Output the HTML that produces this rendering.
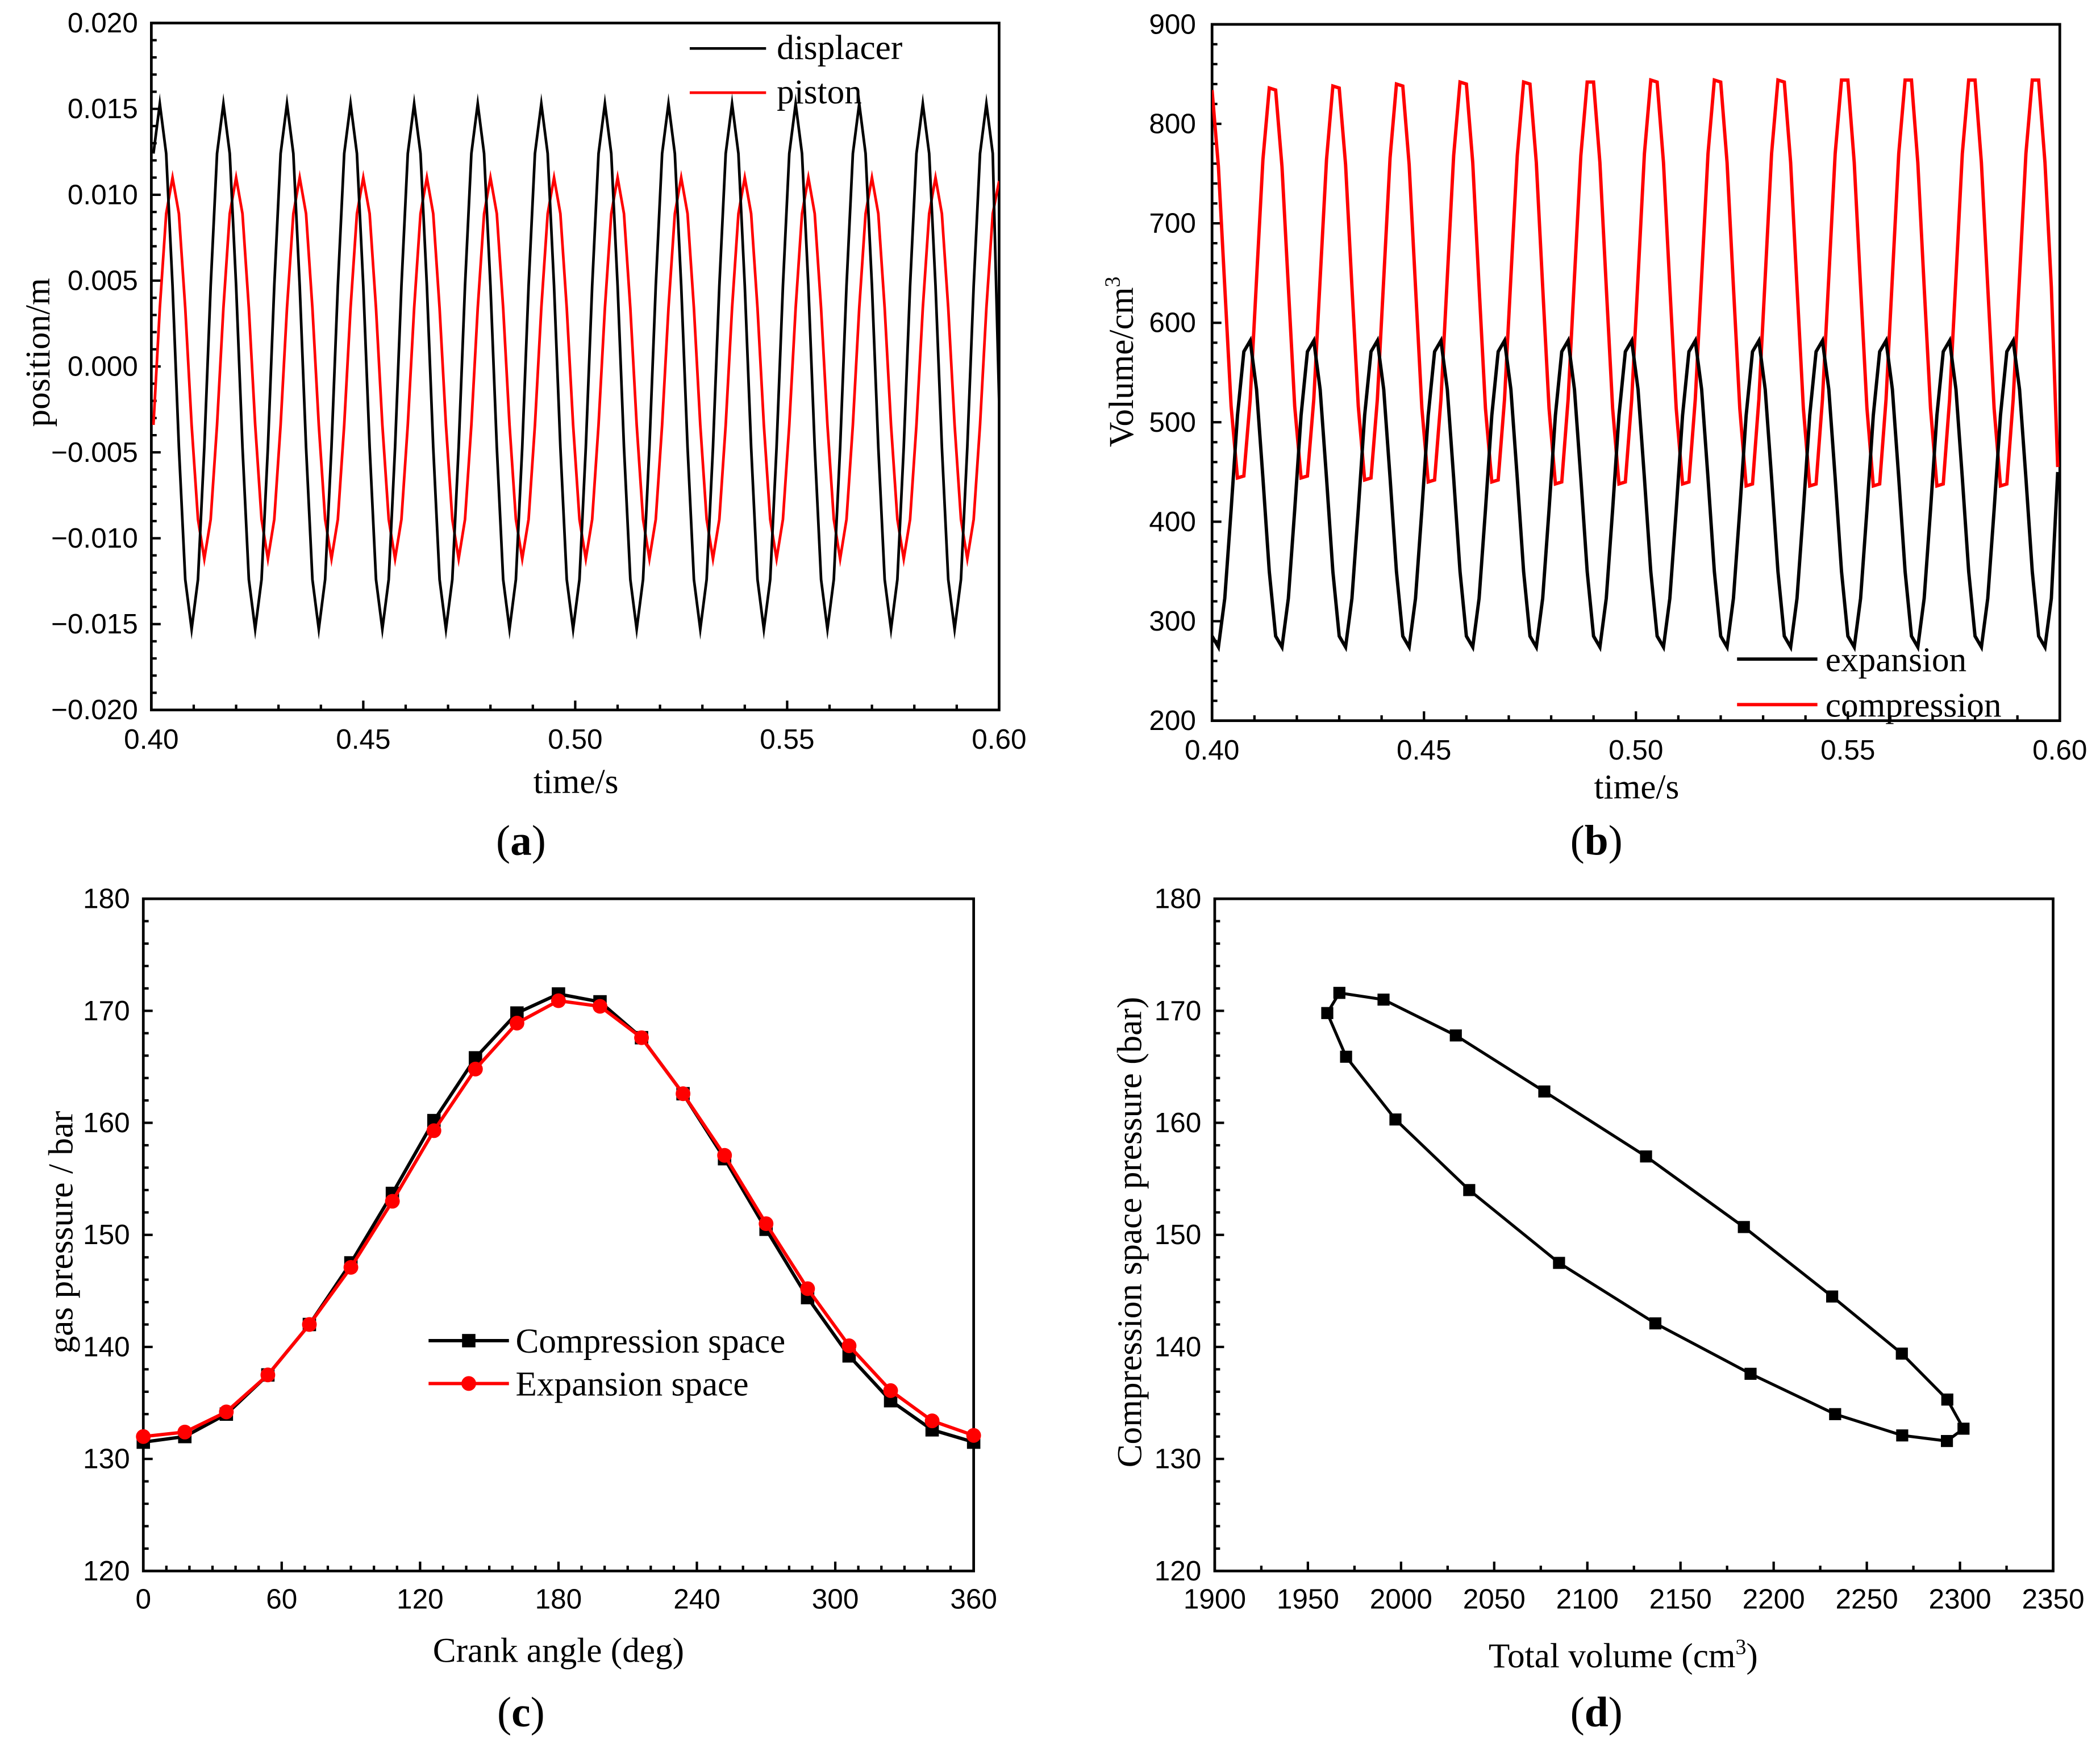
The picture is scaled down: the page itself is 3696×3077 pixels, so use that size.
<!DOCTYPE html>
<html><head><meta charset="utf-8"><style>
html,body{margin:0;padding:0;background:#fff;}
svg{display:block;}
.tick{font-family:"Liberation Sans",Arial,sans-serif;font-size:21px;fill:#000;}
.ttl{font-family:"Liberation Serif","Times New Roman",serif;font-size:26px;fill:#000;}
.pl{font-family:"Liberation Serif","Times New Roman",serif;font-size:32px;fill:#000;}
</style></head><body>
<svg id="fig" xmlns="http://www.w3.org/2000/svg" width="3696" height="3077" viewBox="0 0 1568 1305">
<rect x="0" y="0" width="1568" height="1305" fill="#fff"/>
</svg>
<script>
// ---------- Panel (a) data ----------
const aTimeStart = 0.4005;
const aTimeStep = 0.0015;
const aDisplacer = [
0.0124,0.0153,0.0124,0.0047,-0.0047,-0.0124,-0.0153,-0.0124,-0.0047,0.0047,
0.0124,0.0153,0.0124,0.0047,-0.0047,-0.0124,-0.0153,-0.0124,-0.0047,0.0047,
0.0124,0.0153,0.0124,0.0047,-0.0047,-0.0124,-0.0153,-0.0124,-0.0047,0.0047,
0.0124,0.0153,0.0124,0.0047,-0.0047,-0.0124,-0.0153,-0.0124,-0.0047,0.0047,
0.0124,0.0153,0.0124,0.0047,-0.0047,-0.0124,-0.0153,-0.0124,-0.0047,0.0047,
0.0124,0.0153,0.0124,0.0047,-0.0047,-0.0124,-0.0153,-0.0124,-0.0047,0.0047,
0.0124,0.0153,0.0124,0.0047,-0.0047,-0.0124,-0.0153,-0.0124,-0.0047,0.0047,
0.0124,0.0153,0.0124,0.0047,-0.0047,-0.0124,-0.0153,-0.0124,-0.0047,0.0047,
0.0124,0.0153,0.0124,0.0047,-0.0047,-0.0124,-0.0153,-0.0124,-0.0047,0.0047,
0.0124,0.0153,0.0124,0.0047,-0.0047,-0.0124,-0.0153,-0.0124,-0.0047,0.0047,
0.0124,0.0153,0.0124,0.0047,-0.0047,-0.0124,-0.0153,-0.0124,-0.0047,0.0047,
0.0124,0.0153,0.0124,0.0047,-0.0047,-0.0124,-0.0153,-0.0124,-0.0047,0.0047,
0.0124,0.0153,0.0124,0.0047,-0.0047,-0.0124,-0.0153,-0.0124,-0.0047,0.0047,
0.0124,0.0153,0.0124,-0.0020];
const aPiston = [
-0.0034,0.0034,0.0089,0.0110,0.0089,0.0034,-0.0034,-0.0089,-0.0112,-0.0089,
-0.0034,0.0034,0.0089,0.0110,0.0089,0.0034,-0.0034,-0.0089,-0.0112,-0.0089,
-0.0034,0.0034,0.0089,0.0110,0.0089,0.0034,-0.0034,-0.0089,-0.0112,-0.0089,
-0.0034,0.0034,0.0089,0.0110,0.0089,0.0034,-0.0034,-0.0089,-0.0112,-0.0089,
-0.0034,0.0034,0.0089,0.0110,0.0089,0.0034,-0.0034,-0.0089,-0.0112,-0.0089,
-0.0034,0.0034,0.0089,0.0110,0.0089,0.0034,-0.0034,-0.0089,-0.0112,-0.0089,
-0.0034,0.0034,0.0089,0.0110,0.0089,0.0034,-0.0034,-0.0089,-0.0112,-0.0089,
-0.0034,0.0034,0.0089,0.0110,0.0089,0.0034,-0.0034,-0.0089,-0.0112,-0.0089,
-0.0034,0.0034,0.0089,0.0110,0.0089,0.0034,-0.0034,-0.0089,-0.0112,-0.0089,
-0.0034,0.0034,0.0089,0.0110,0.0089,0.0034,-0.0034,-0.0089,-0.0112,-0.0089,
-0.0034,0.0034,0.0089,0.0110,0.0089,0.0034,-0.0034,-0.0089,-0.0112,-0.0089,
-0.0034,0.0034,0.0089,0.0110,0.0089,0.0034,-0.0034,-0.0089,-0.0112,-0.0089,
-0.0034,0.0034,0.0089,0.0110,0.0089,0.0034,-0.0034,-0.0089,-0.0112,-0.0089,
-0.0034,0.0034,0.0089,0.0108];
const aXTicks = ["0.40","0.45","0.50","0.55","0.60"];
const aYTicks = ["0.020","0.015","0.010","0.005","0.000","−0.005","−0.010","−0.015","−0.020"];

// ---------- Panel (b) data ----------
const bTimeStart = 0.4;
const bTimeStep = 0.0015;
const bExpansion = [
285,274,323,412,507,571,582,533,444,350,
285,274,323,412,507,571,582,533,444,350,
285,274,323,412,507,571,582,533,444,350,
285,274,323,412,507,571,582,533,444,350,
285,274,323,412,507,571,582,533,444,350,
285,274,323,412,507,571,582,533,444,350,
285,274,323,412,507,571,582,533,444,350,
285,274,323,412,507,571,582,533,444,350,
285,274,323,412,507,571,582,533,444,350,
285,274,323,412,507,571,582,533,444,350,
285,274,323,412,507,571,582,533,444,350,
285,274,323,412,507,571,582,533,444,350,
285,274,323,412,507,571,582,533,444,350,
285,274,323,450];
const bCompression = [
834,757,636,516,444,446,523,644,764,836,
834,757,636,516,444,446,523,644,764,838,
836,759,636,516,442,444,523,644,766,840,
838,759,636,514,440,442,523,646,768,842,
840,761,636,514,440,442,523,646,768,842,
840,761,636,514,438,440,523,646,768,842,
842,761,636,514,438,440,523,646,770,844,
842,761,636,514,438,440,523,646,770,844,
842,761,636,514,436,438,523,646,770,844,
842,761,636,514,436,438,523,646,770,844,
844,761,636,514,436,438,523,646,770,844,
844,761,636,514,436,438,523,646,770,844,
844,761,636,514,436,438,523,646,770,844,
844,761,636,455];
const bXTicks = ["0.40","0.45","0.50","0.55","0.60"];
const bYTicks = ["900","800","700","600","500","400","300","200"];

// ---------- Panel (c) data ----------
const cAngles = [0,18,36,54,72,90,108,126,144,162,180,198,216,234,252,270,288,306,324,342,360];
const cCompression = [131.5,132,134,137.5,142,147.5,153.7,160.2,165.8,169.8,171.5,170.8,167.6,162.6,156.8,150.5,144.4,139.2,135.2,132.6,131.5];
const cExpansion = [132,132.4,134.2,137.5,142,147.1,153,159.3,164.8,168.9,170.9,170.4,167.6,162.6,157.1,151,145.2,140.1,136.1,133.4,132.1];
const cXTicks = ["0","60","120","180","240","300","360"];
const cYTicks = ["180","170","160","150","140","130","120"];

// ---------- Panel (d) data ----------
const dVolume = [2293,2269,2233,2187.6,2136.5,2084.8,2036.6,1997,1970.5,1960.4,1966.9,1990.6,2029.4,2076.9,2131.5,2184,2231.4,2268.8,2293.2,2301.9];
const dPressure = [131.6,132.1,134,137.6,142.1,147.5,154,160.3,165.9,169.8,171.6,171,167.8,162.8,157,150.7,144.5,139.4,135.3,132.7];
const dXTicks = ["1900","1950","2000","2050","2100","2150","2200","2250","2300","2350"];
const dYTicks = ["180","170","160","150","140","130","120"];

const NS = "http://www.w3.org/2000/svg";
const svg = document.getElementById('fig');
function mk(tag, attrs, parent){
  const e = document.createElementNS(NS, tag);
  for (const k in attrs) e.setAttribute(k, attrs[k]);
  (parent||svg).appendChild(e);
  return e;
}
function lin(d0,d1,p0,p1){ return v => p0 + (v-d0)/(d1-d0)*(p1-p0); }

function frame(g, L, T, R, B, xMin, xMax, xMajor, xMinorN, yMin, yMax, yMajor, yMinorN, xLabels, yLabels, xLabY, yLabX){
  const sx = lin(xMin,xMax,L,R), sy = lin(yMin,yMax,B,T);
  const f = mk('rect',{x:L,y:T,width:R-L,height:B-T,fill:'none',stroke:'#000','stroke-width':2},g);
  
  
  let d='';
  const nx = Math.round((xMax-xMin)/xMajor);
  for(let i=0;i<=nx;i++){
    const xv = xMin+i*xMajor, x = sx(xv);
    d += `M${x},${B}v-7`;
    if(i<nx) for(let j=1;j<=xMinorN;j++){ const xm = sx(xv + j*xMajor/(xMinorN+1)); d+=`M${xm},${B}v-4`; }
    const t = mk('text',{x:x,y:xLabY,'text-anchor':'middle',class:'tick'},g);
    t.textContent = xLabels[i];
    
    
  }
  const ny = Math.round((yMax-yMin)/yMajor);
  for(let i=0;i<=ny;i++){
    const yv = yMax-i*yMajor, y = sy(yv);
    d += `M${L},${y}h7`;
    if(i<ny) for(let j=1;j<=yMinorN;j++){ const ym = sy(yv - j*yMajor/(yMinorN+1)); d+=`M${L},${ym}h4`; }
    const t = mk('text',{x:yLabX,y:y+7,'text-anchor':'end',class:'tick'},g);
    t.textContent = yLabels[i];
    
    
  }
  const tk = mk('path',{d:d,stroke:'#000','stroke-width':1.8,fill:'none'},g);
  
  
  return {sx,sy};
}
function poly(g, xs, ys, sx, sy, color, w, name){
  const pts = xs.map((x,i)=>sx(x).toFixed(2)+','+sy(ys[i]).toFixed(2)).join(' ');
  const p = mk('polyline',{points:pts,fill:'none',stroke:color,'stroke-width':w,'stroke-linejoin':'miter','stroke-miterlimit':10},g);
  
  
  return p;
}
function text(g, x, y, s, cls, extra, name){
  const t = mk('text',Object.assign({x:x,y:y,class:cls},extra||{}),g);
  t.textContent = s;
  
  
  return t;
}
function label(g,x,y,ch,name){
  const t = mk('text',{x:x,y:y,class:'pl','text-anchor':'middle'},g);
  
  
  const a=mk('tspan',{},t); a.textContent='(';
  const b=mk('tspan',{'font-weight':'bold'},t); b.textContent=ch;
  const c=mk('tspan',{},t); c.textContent=')';
}

// ===== Panel (a) =====
{
  const g = mk('g',{});
  
  
  const {sx,sy} = frame(g,113,17,746,530,0.4,0.6,0.05,4,-0.02,0.02,0.005,4,aXTicks,aYTicks,559,103);
  const ta = aDisplacer.map((_,i)=>aTimeStart+i*aTimeStep);
  const clip = mk('clipPath',{id:'ca'},g); mk('rect',{x:113,y:17,width:633,height:513},clip);
  const sg = mk('g',{'clip-path':'url(#ca)'},g);
  poly(sg, ta, aPiston, sx, sy, '#f00', 2, 'piston-line');
  poly(sg, ta, aDisplacer, sx, sy, '#000', 2, 'displacer-line');
  const l1 = mk('line',{x1:515,y1:36,x2:572,y2:36,stroke:'#000','stroke-width':2},g);
   
  text(g,580,44,'displacer','ttl',{},'legend-displacer-label');
  const l2 = mk('line',{x1:515,y1:69,x2:572,y2:69,stroke:'#f00','stroke-width':2},g);
   
  text(g,580,77,'piston','ttl',{},'legend-piston-label');
  text(g,430,592,'time/s','ttl',{'text-anchor':'middle'},'x-axis-title');
  text(g,37,263,'position/m','ttl',{'text-anchor':'middle',transform:'rotate(-90 37 263)'},'y-axis-title');
  label(g,389,638,'a','panel-label-a');
}
// ===== Panel (b) =====
{
  const g = mk('g',{});
  
  
  const {sx,sy} = frame(g,905,18,1538,538,0.4,0.6,0.05,4,200,900,100,4,bXTicks,bYTicks,567,893);
  const tb = bExpansion.map((_,i)=>bTimeStart+i*bTimeStep);
  const clip = mk('clipPath',{id:'cb'},g); mk('rect',{x:905,y:18,width:633,height:520},clip);
  const sg = mk('g',{'clip-path':'url(#cb)'},g);
  poly(sg, tb, bCompression, sx, sy, '#f00', 2.5, 'compression-line');
  poly(sg, tb, bExpansion, sx, sy, '#000', 2.5, 'expansion-line');
  const l1 = mk('line',{x1:1297,y1:492,x2:1357,y2:492,stroke:'#000','stroke-width':2.5},g);
   
  text(g,1363,501,'expansion','ttl',{},'legend-expansion-label');
  const l2 = mk('line',{x1:1297,y1:526,x2:1357,y2:526,stroke:'#f00','stroke-width':2.5},g);
   
  text(g,1363,535,'compression','ttl',{},'legend-compression-label');
  text(g,1222,596,'time/s','ttl',{'text-anchor':'middle'},'x-axis-title');
  const yt = text(g,846,270,'Volume/cm','ttl',{'text-anchor':'middle',transform:'rotate(-90 846 270)'},'y-axis-title');
  const sup = mk('tspan',{'font-size':'16px',dy:'-10'},yt); sup.textContent='3';
  label(g,1192,638,'b','panel-label-b');
}
// ===== Panel (c) =====
{
  const g = mk('g',{});
  
  
  const {sx,sy} = frame(g,107,671,727,1173,0,360,60,5,120,180,10,4,cXTicks,cYTicks,1201,97);
  poly(g, cAngles, cCompression, sx, sy, '#000', 2.5, 'compression-space-line');
  cAngles.forEach((a,i)=>{
    const r = mk('rect',{x:sx(a)-5,y:sy(cCompression[i])-5,width:10,height:10,fill:'#000'},g);
     
  });
  poly(g, cAngles, cExpansion, sx, sy, '#f00', 2.5, 'expansion-space-line');
  cAngles.forEach((a,i)=>{
    const c = mk('circle',{cx:sx(a),cy:sy(cExpansion[i]),r:5.5,fill:'#f00'},g);
     
  });
  const l1 = mk('line',{x1:320,y1:1001,x2:380,y2:1001,stroke:'#000','stroke-width':2.5},g);
   
  mk('rect',{x:345,y:996,width:10,height:10,fill:'#000'},g);
  text(g,385,1010,'Compression space','ttl',{},'legend-compression-label');
  const l2 = mk('line',{x1:320,y1:1033,x2:380,y2:1033,stroke:'#f00','stroke-width':2.5},g);
   
  mk('circle',{cx:350,cy:1033,r:5.5,fill:'#f00'},g);
  text(g,385,1042,'Expansion space','ttl',{},'legend-expansion-label');
  text(g,417,1241,'Crank angle (deg)','ttl',{'text-anchor':'middle'},'x-axis-title');
  text(g,54,920,'gas pressure / bar','ttl',{'text-anchor':'middle',transform:'rotate(-90 54 920)'},'y-axis-title');
  label(g,389,1289,'c','panel-label-c');
}
// ===== Panel (d) =====
{
  const g = mk('g',{});
  
  
  const {sx,sy} = frame(g,907,671,1533,1173,1900,2350,50,1,120,180,10,4,dXTicks,dYTicks,1201,897);
  const xs = dVolume.concat([dVolume[0]]), ys = dPressure.concat([dPressure[0]]);
  poly(g, xs, ys, sx, sy, '#000', 2.2, 'pv-loop-line');
  dVolume.forEach((v,i)=>{
    const r = mk('rect',{x:sx(v)-4.5,y:sy(dPressure[i])-4.5,width:9,height:9,fill:'#000'},g);
     
  });
  const xt = text(g,1212,1245,'Total volume (cm','ttl',{'text-anchor':'middle'},'x-axis-title');
  const s1 = mk('tspan',{'font-size':'16px',dy:'-10'},xt); s1.textContent='3';
  const s2 = mk('tspan',{dy:'10'},xt); s2.textContent=')';
  text(g,852,920,'Compression space pressure (bar)','ttl',{'text-anchor':'middle',transform:'rotate(-90 852 920)'},'y-axis-title');
  label(g,1192,1289,'d','panel-label-d');
}
</script>
</body></html>
